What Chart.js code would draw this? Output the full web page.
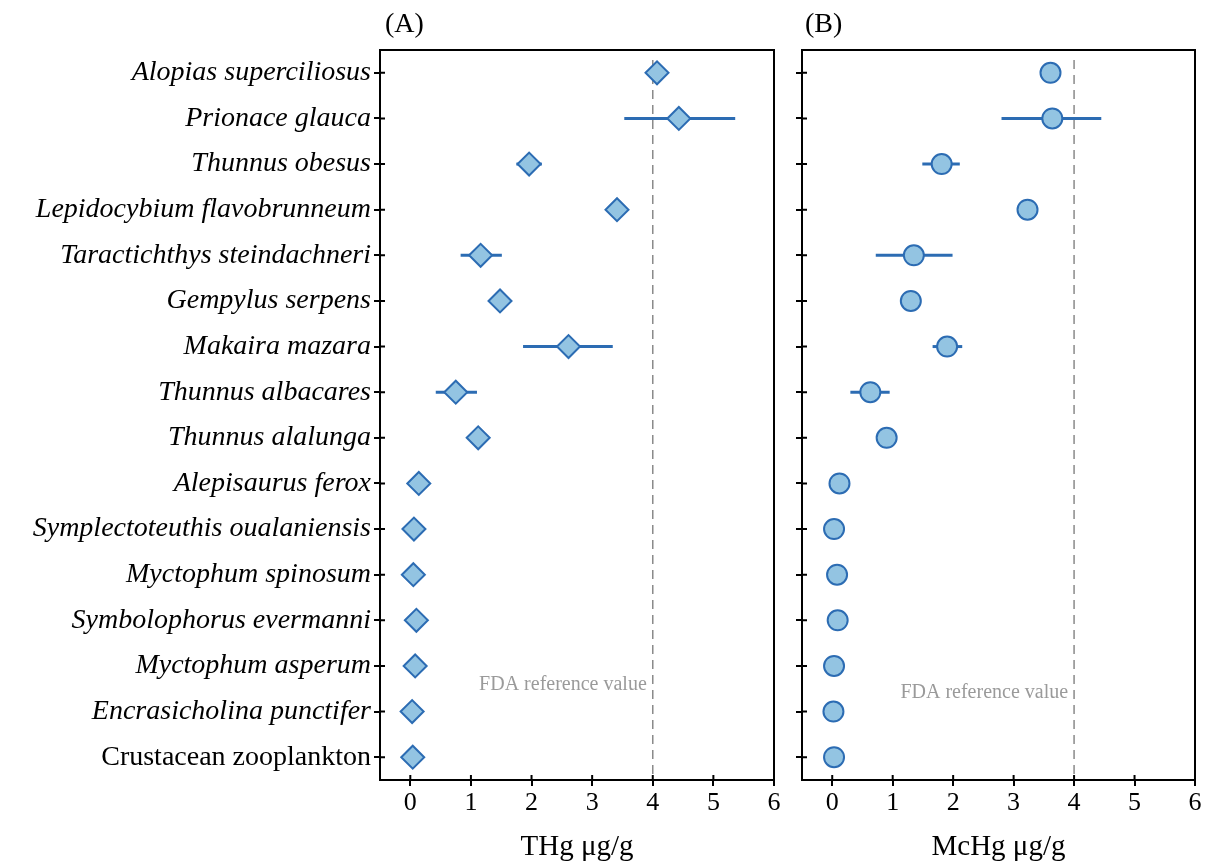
<!DOCTYPE html>
<html>
<head>
<meta charset="utf-8">
<script src="https://cdn.jsdelivr.net/npm/chart.js@4"></script>
<style>
  body { margin: 0; background: #fff; }
  #painelA { position: absolute; left: 0; top: 0; width: 790px; height: 867px; }
  #painelB { position: absolute; left: 785px; top: 0; width: 426px; height: 867px; }
</style>
</head>
<body>
<div id="painelA"><canvas id="graficoA"></canvas></div>
<div id="painelB"><canvas id="graficoB"></canvas></div>

<script>
const especies = [
  "Alopias superciliosus", "Prionace glauca", "Thunnus obesus", "Lepidocybium flavobrunneum",
  "Taractichthys steindachneri", "Gempylus serpens", "Makaira mazara", "Thunnus albacares",
  "Thunnus alalunga", "Alepisaurus ferox", "Symplectoteuthis oualaniensis", "Myctophum spinosum",
  "Symbolophorus evermanni", "Myctophum asperum", "Encrasicholina punctifer", "Crustacean zooplankton"
];

// THg (A)
const thgMedia = [4.07, 4.43, 1.96, 3.41, 1.16, 1.48, 2.61, 0.75, 1.12, 0.14, 0.06, 0.05, 0.10, 0.08, 0.03, 0.04];
const thgMin   = [null, 3.53, 1.75, null, 0.83, null, 1.86, 0.42, null, null, null, null, null, null, null, null];
const thgMax   = [null, 5.36, 2.17, null, 1.51, null, 3.34, 1.10, null, null, null, null, null, null, null, null];

// MeHg (B)
const mehgMedia = [3.61, 3.64, 1.81, 3.23, 1.35, 1.30, 1.90, 0.63, 0.90, 0.12, 0.03, 0.08, 0.09, 0.03, 0.02, 0.03];
const mehgMin   = [null, 2.80, 1.49, null, 0.72, null, 1.66, 0.30, 0.74, null, null, null, null, null, null, null];
const mehgMax   = [null, 4.45, 2.11, null, 1.99, null, 2.15, 0.95, 1.06, null, null, null, null, null, null, null];

const xTicks = [0, 1, 2, 3, 4, 5, 6];
const fda = 4;

const AZUL = "#2c6cb3";
const AZUL_CLARO = "#93c4e2";
const SERIF = "'Liberation Serif', 'DejaVu Serif', serif";

/* barras de erro, linha FDA, moldura e letra do painel */
const extras = {
  id: "extras",
  beforeDatasetsDraw(chart, args, opts) {
    const { ctx, chartArea } = chart;
    const x = chart.scales.x, y = chart.scales.y;

    ctx.save();
    ctx.strokeStyle = AZUL;
    ctx.lineWidth = 3;
    opts.min.forEach((lo, i) => {
      const hi = opts.max[i];
      if (lo == null || hi == null) return;
      const py = y.getPixelForValue(i);
      ctx.beginPath();
      ctx.moveTo(x.getPixelForValue(lo), py);
      ctx.lineTo(x.getPixelForValue(hi), py);
      ctx.stroke();
    });

    const fx = x.getPixelForValue(fda);
    ctx.strokeStyle = "#8a8a8a";
    ctx.lineWidth = 1.5;
    ctx.setLineDash([9, 6]);
    ctx.beginPath();
    ctx.moveTo(fx, chartArea.top + 10);
    ctx.lineTo(fx, chartArea.bottom);
    ctx.stroke();
    ctx.setLineDash([]);

    ctx.fillStyle = "#9a9a9a";
    ctx.font = "20px " + SERIF;
    ctx.textAlign = "right";
    ctx.textBaseline = "middle";
    ctx.fillText("FDA reference value", fx - 6, y.getPixelForValue(opts.textoY));
    ctx.restore();
  },
  afterDraw(chart, args, opts) {
    const { ctx, chartArea } = chart;
    const x = chart.scales.x, y = chart.scales.y;
    ctx.save();
    ctx.strokeStyle = "#000";
    ctx.lineWidth = 2;
    ctx.strokeRect(chartArea.left, chartArea.top, chartArea.right - chartArea.left, chartArea.bottom - chartArea.top);

    // ticks para dentro
    ctx.beginPath();
    y.ticks.forEach((t, i) => {
      const py = y.getPixelForValue(i);
      ctx.moveTo(chartArea.left, py);
      ctx.lineTo(chartArea.left + 5, py);
    });
    x.ticks.forEach(t => {
      const px = x.getPixelForValue(t.value);
      ctx.moveTo(px, chartArea.bottom);
      ctx.lineTo(px, chartArea.bottom - 5);
    });
    ctx.stroke();

    ctx.fillStyle = "#000";
    ctx.font = "28px " + SERIF;
    ctx.textAlign = "left";
    ctx.textBaseline = "middle";
    ctx.fillText(opts.letra, chartArea.left + opts.letraDx, 25);
    ctx.restore();
  }
};

function criar(id, media, min, max, cfg) {
  const pontos = media.map((v, i) => ({ x: v, y: especies[i] }));

  return new Chart(document.getElementById(id), {
    type: "scatter",
    data: {
      datasets: [{
        data: pontos,
        pointStyle: cfg.estilo,
        pointRadius: cfg.raio,
        pointHoverRadius: cfg.raio,
        backgroundColor: AZUL_CLARO,
        borderColor: AZUL,
        borderWidth: 2
      }]
    },
    options: {
      responsive: true,
      maintainAspectRatio: false,
      animation: false,
      layout: { padding: { left: 0, right: 16, top: 50, bottom: 0 } },
      plugins: {
        legend: { display: false },
        tooltip: { enabled: false },
        extras: { min, max, letra: cfg.letra, letraDx: cfg.letraDx, textoY: cfg.textoY }
      },
      scales: {
        x: {
          type: "linear",
          min: -0.5,
          max: 6,
          afterBuildTicks: s => { s.ticks = xTicks.map(v => ({ value: v })); },
          afterFit: s => { s.height = 87; },
          grid: { drawOnChartArea: false, drawTicks: true, tickLength: 6, color: "#000", lineWidth: 2 },
          border: { display: true, color: "#000", width: 2 },
          ticks: { color: "#000", font: { family: SERIF, size: 26 }, padding: 2, maxRotation: 0 },
          title: {
            display: true,
            text: cfg.tituloX,
            color: "#000",
            font: { family: SERIF, size: 29 },
            padding: { top: 0, bottom: 2 }
          }
        },
        y: {
          type: "category",
          labels: especies,
          offset: true,
          afterFit: s => { s.width = cfg.larguraY; },
          grid: { drawOnChartArea: false, drawTicks: true, tickLength: 6, color: "#000", lineWidth: 2 },
          border: { display: true, color: "#000", width: 2 },
          ticks: {
            display: cfg.rotulos,
            color: "#000",
            padding: 3,
            font: ctx => ({
              family: SERIF,
              size: 28,
              style: ctx.index === especies.length - 1 ? "normal" : "italic"
            })
          }
        }
      }
    },
    plugins: [extras]
  });
}

criar("graficoA", thgMedia, thgMin, thgMax, {
  estilo: "rectRot", raio: 11.5, letra: "(A)", letraDx: 5, textoY: 13.42,
  tituloX: "THg μg/g", larguraY: 380, rotulos: true
});

criar("graficoB", mehgMedia, mehgMin, mehgMax, {
  estilo: "circle", raio: 10, letra: "(B)", letraDx: 3, textoY: 13.58,
  tituloX: "McHg μg/g", larguraY: 17, rotulos: false
});
</script>
</body>
</html>
